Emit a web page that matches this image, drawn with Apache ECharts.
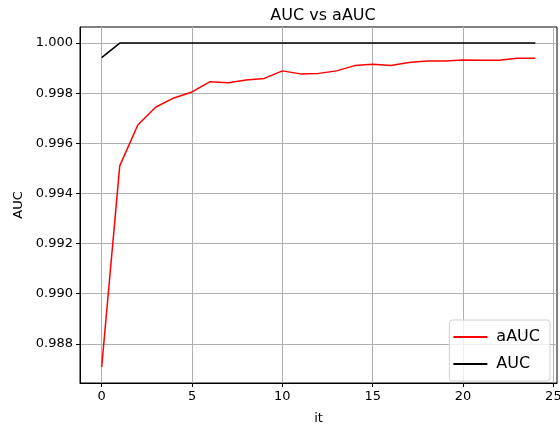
<!DOCTYPE html>
<html>
	<head>
		<meta charset="utf-8">
		<title>AUC vs aAUC</title>
		<script src="https://cdn.jsdelivr.net/npm/echarts@6/dist/echarts.min.js"></script>
	</head>
	<body style="margin:0">
		<div id="main" style="width: 560px;height:425px;"></div>
	</body>
	<script type="text/javascript">
        var its = [0,1,2,3,4,5,6,7,8,9,10,11,12,13,14,15,16,17,18,19,20,21,22,23,24];
        var aAUC = [0.98708, 0.99510, 0.99673, 0.99745, 0.99781, 0.99805, 0.99846, 0.99842, 0.99853, 0.99859,
                    0.99889, 0.99877, 0.99879, 0.99889, 0.99910, 0.99915, 0.99910, 0.99922, 0.99928, 0.99928,
                    0.99932, 0.99931, 0.99931, 0.99939, 0.99939];
        var AUC = [0.99942, 1, 1, 1, 1, 1, 1, 1, 1, 1, 1, 1, 1, 1, 1, 1, 1, 1, 1, 1, 1, 1, 1, 1, 1];
        var xTicks = [0, 5, 10, 15, 20, 25];
        var yTicks = [0.988, 0.990, 0.992, 0.994, 0.996, 0.998, 1.000];

        var pairs = function (xs, ys) {
            var out = [];
            for (var i=0;i<xs.length;i++) {
                out.push([xs[i], ys[i]]);
            }
            return out;
        };

	    var myChart = echarts.init(document.getElementById('main'));
        var font = 'DejaVu Sans';
	    var option = {
            animation: false,
	        title: {
	            text: 'AUC vs aAUC',
                left: 318,
                top: 3,
                textAlign: 'center',
                textStyle: {fontFamily: font, fontSize: 16, fontWeight: 'normal', color: '#000'}
	        },
	        legend: {
                orient: 'vertical',
                right: 10,
                top: 320,
                data: ['aAUC', 'AUC'],
                icon: 'rect',
                itemWidth: 34,
                itemHeight: 2,
                itemGap: 9,
                padding: [8, 10, 8, 4],
                borderColor: '#d0d0d0',
                borderWidth: 1,
                borderRadius: 3,
                backgroundColor: 'rgba(255,255,255,0.8)',
                textStyle: {fontFamily: font, fontSize: 16, lineHeight: 18, color: '#000', padding: [0, 0, 0, 4]}
	        },
            grid: {
                left: 80, right: 3, top: 27, bottom: 42,
                outerBoundsMode: 'none',
                show: true, borderColor: '#000', borderWidth: 1
            },
	        xAxis: {
                type: 'value',
                min: -1.2,
                max: 25.2,
                name: 'it',
                nameLocation: 'middle',
                nameGap: 29,
                nameTextStyle: {fontFamily: font, fontSize: 13, color: '#000'},
                axisLine: {show: true, onZero: false, lineStyle: {color: '#000', width: 1}},
                axisTick: {show: true, customValues: xTicks, length: 4, lineStyle: {color: '#000'}},
                axisLabel: {customValues: xTicks, fontFamily: font, fontSize: 13, color: '#000', margin: 7},
                splitLine: {show: true, lineStyle: {color: '#b0b0b0', width: 1}}
	        },
	        yAxis: {
                type: 'value',
                min: 0.98644,
                max: 1.00064,
                name: 'AUC',
                nameLocation: 'middle',
                nameGap: 55,
                nameTextStyle: {fontFamily: font, fontSize: 13, color: '#000'},
                axisLine: {show: true, onZero: false, lineStyle: {color: '#000', width: 1}},
                axisTick: {show: true, customValues: yTicks, length: 4, lineStyle: {color: '#000'}},
                axisLabel: {
                    customValues: yTicks, fontFamily: font, fontSize: 13, color: '#000', margin: 7,
                    formatter: function (v) { return v.toFixed(3); }
                },
                splitLine: {show: true, lineStyle: {color: '#b0b0b0', width: 1}}
            },
	        series: [{
	            name: 'aAUC',
	            type: 'line',
                symbol: 'none',
                color: '#ff0000',
                lineStyle: {color: '#ff0000', width: 1.5},
				data: pairs(its, aAUC)
	        }, {
	            name: 'AUC',
	            type: 'line',
                symbol: 'none',
                color: '#000000',
                lineStyle: {color: '#000000', width: 1.5},
				data: pairs(its, AUC)
	        }]
	    };
	    myChart.setOption(option);
	</script>
</html>
